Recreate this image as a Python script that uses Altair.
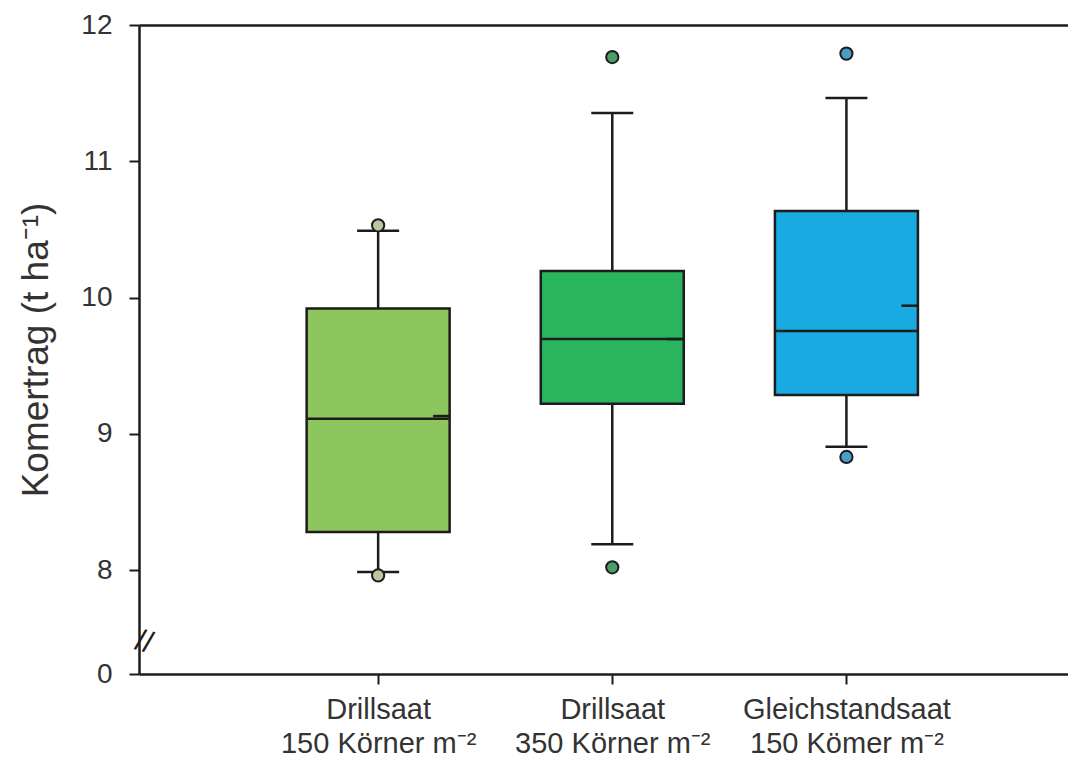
import altair as alt
import pandas as pd

# ---- data ----
group_pos = [1, 2, 3]
group_line1 = ["Drillsaat", "Drillsaat", "Gleichstandsaat"]
group_line2 = ["150 Körner m⁻²", "350 Körner m⁻²", "150 Kömer m⁻²"]
q1 = [8.28, 9.22, 9.285]
median = [9.11, 9.695, 9.755]
q3 = [9.92, 10.195, 10.635]
mean = [9.13, 9.695, 9.94]
whisker_low = [7.985, 8.19, 8.905]
whisker_high = [10.49, 11.355, 11.465]
box_colors = ["#8CC65C", "#2BB45E", "#1AAAE2"]

outlier_pos = [1, 1, 2, 2, 3, 3]
outlier_val = [10.53, 7.96, 11.765, 8.02, 11.79, 8.83]
outlier_colors = ["#B9C7A2", "#B9C7A2", "#4C9C68", "#4C9C68", "#4A9CCB", "#4A9CCB"]

# y-axis: broken axis, "0" drawn just below 8
y_break_zero = 7.237
y_tick_values = [y_break_zero, 8, 9, 10, 11, 12]
y_top = 12
break_mark_value = 7.47
x_domain = [0, 3.925]
y_title = "Komertrag (t ha⁻¹)"

boxes = pd.DataFrame({
    "pos": group_pos, "q1": q1, "median": median, "q3": q3, "mean": mean,
    "wlo": whisker_low, "whi": whisker_high, "color": box_colors,
})
caps = pd.DataFrame({
    "pos": group_pos + group_pos,
    "val": whisker_low + whisker_high,
})
outliers = pd.DataFrame({"pos": outlier_pos, "val": outlier_val, "color": outlier_colors})

FONT = "Liberation Sans"
DARK = "#1c1c1c"
TEXT = "#333333"

label_expr = "".join(
    f"datum.value == {p} ? ['{a}', '{b}'] : " for p, a, b in zip(group_pos, group_line1, group_line2)
) + "''"

x_scale = alt.Scale(domain=x_domain, nice=False, zero=False)
y_scale = alt.Scale(domain=[y_break_zero, y_top], nice=False, zero=False)

y_axis = alt.Axis(
    values=y_tick_values,
    labelExpr="datum.value < 7.5 ? '0' : format(datum.value, 'd')",
    title=y_title,
    titleFont=FONT, titleFontSize=37, titleFontWeight="normal", titleColor=TEXT,
    titlePadding=25,
    labelFont=FONT, labelFontSize=28, labelColor=TEXT, labelPadding=17,
    tickSize=10, tickWidth=2, tickColor=DARK,
    domainWidth=2.5, domainColor=DARK, grid=False,
)

x_axis_bottom = alt.Axis(
    values=group_pos, labelExpr=label_expr, title=None,
    labelFont=FONT, labelFontSize=29, labelColor=TEXT, labelLineHeight=34,
    labelPadding=11, labelBaseline="top", labelLimit=0,
    tickSize=10, tickWidth=2, tickColor=DARK,
    domainWidth=2.5, domainColor=DARK, grid=False,
)
x_axis_top = alt.Axis(
    orient="top", labels=False, ticks=False, title=None, grid=False,
    domainWidth=2.5, domainColor=DARK,
)

base = alt.Chart(boxes)

whiskers = base.mark_rule(color=DARK, strokeWidth=2.5).encode(
    x=alt.X("pos:Q", scale=x_scale, axis=x_axis_top),
    y=alt.Y("wlo:Q", scale=y_scale, axis=y_axis),
    y2="whi:Q",
)

cap_marks = alt.Chart(caps).mark_tick(
    orient="horizontal", size=42, thickness=2.5, color=DARK, opacity=1
).encode(
    x=alt.X("pos:Q", scale=x_scale, axis=None),
    y=alt.Y("val:Q", scale=y_scale, axis=y_axis),
)

box_marks = base.mark_bar(size=143, stroke=DARK, strokeWidth=2.5, opacity=1).encode(
    x=alt.X("pos:Q", scale=x_scale, axis=x_axis_bottom),
    y=alt.Y("q1:Q", scale=y_scale, axis=y_axis),
    y2="q3:Q",
    fill=alt.Fill("color:N", scale=None),
)

median_marks = base.mark_tick(
    orient="horizontal", size=141, thickness=2.5, color=DARK, opacity=1
).encode(
    x=alt.X("pos:Q", scale=x_scale, axis=None),
    y=alt.Y("median:Q", scale=y_scale, axis=y_axis),
)

mean_marks = base.mark_tick(
    orient="horizontal", size=16, thickness=2.5, color=DARK, opacity=1, xOffset=63
).encode(
    x=alt.X("pos:Q", scale=x_scale, axis=None),
    y=alt.Y("mean:Q", scale=y_scale, axis=y_axis),
)

outlier_marks = alt.Chart(outliers).mark_circle(
    size=150, stroke=DARK, strokeWidth=2, opacity=1
).encode(
    x=alt.X("pos:Q", scale=x_scale, axis=None),
    y=alt.Y("val:Q", scale=y_scale, axis=y_axis),
    fill=alt.Fill("color:N", scale=None),
)

break_df = pd.DataFrame({"x": [x_domain[0]], "y": [break_mark_value], "t": ["//"]})
break_marks = alt.Chart(break_df).mark_text(
    font=FONT, fontSize=30, color=DARK, angle=15, align="center", baseline="middle"
).encode(
    x=alt.X("x:Q", scale=x_scale, axis=None),
    y=alt.Y("y:Q", scale=y_scale, axis=y_axis),
    text="t:N",
)

chart = alt.layer(
    whiskers, cap_marks, box_marks, median_marks, mean_marks, outlier_marks, break_marks
).resolve_axis(x="independent").properties(
    width=929, height=649,
    autosize=alt.AutoSizeParams(type="none"),
    padding={"left": 131, "top": 17, "right": 0, "bottom": 87},
    background="white",
).configure_view(stroke=None)

chart.save("out.html", embed_options={"renderer": "svg", "actions": False})
